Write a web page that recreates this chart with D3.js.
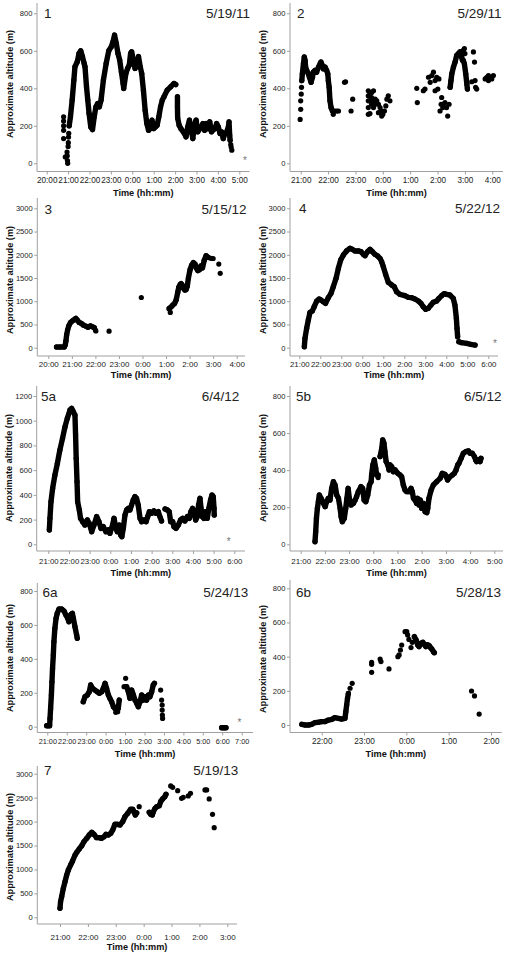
<!DOCTYPE html>
<html><head><meta charset="utf-8">
<script src="https://cdn.jsdelivr.net/npm/d3@7"></script>
<style>
body{margin:0;background:#fff;}
svg{display:block;}
</style></head><body>
<svg id="chart" width="510" height="954"></svg>
<script>
// ---------- DATA (time in decimal hours; values after midnight are +24) ----------
const panelIds = ["1","2","3","4","5a","5b","6a","6b","7"];
const panelDates = ["5/19/11","5/29/11","5/15/12","5/22/12","6/4/12","6/5/12","5/24/13","5/28/13","5/19/13"];

const yTicks800 = [0,200,400,600,800];
const yTicks1200 = [0,200,400,600,800,1000,1200];
const yTicks3000 = [0,500,1000,1500,2000,2500,3000];

const xTicks1 = [20,21,22,23,24,25,26,27,28,29];
const xLabels1 = ["20:00","21:00","22:00","23:00","0:00","1:00","2:00","3:00","4:00","5:00"];
const xTicks2 = [21,22,23,24,25,26,27,28];
const xLabels2 = ["21:00","22:00","23:00","0:00","1:00","2:00","3:00","4:00"];
const xTicks3 = [20,21,22,23,24,25,26,27,28];
const xLabels3 = ["20:00","21:00","22:00","23:00","0:00","1:00","2:00","3:00","4:00"];
const xTicks4 = [21,22,23,24,25,26,27,28,29,30];
const xLabels4 = ["21:00","22:00","23:00","0:00","1:00","2:00","3:00","4:00","5:00","6:00"];
const xTicks5b = [21,22,23,24,25,26,27,28,29];
const xLabels5b = ["21:00","22:00","23:00","0:00","1:00","2:00","3:00","4:00","5:00"];
const xTicks6a = [21,22,23,24,25,26,27,28,29,30,31];
const xLabels6a = ["21:00","22:00","23:00","0:00","1:00","2:00","3:00","4:00","5:00","6:00","7:00"];
const xTicks6b = [22,23,24,25,26];
const xLabels6b = ["22:00","23:00","0:00","1:00","2:00"];
const xTicks7 = [21,22,23,24,25,26,27];
const xLabels7 = ["21:00","22:00","23:00","0:00","1:00","2:00","3:00"];

// Panel 1
const p1Track = [
 [[21.05,200],[21.11,248],[21.19,337],[21.27,444],[21.32,515],[21.43,542],[21.51,586],[21.59,600],[21.67,569],[21.75,533],[21.79,515],[21.86,408],[21.92,337],[21.98,266],[22.06,194],[22.14,180],[22.22,248],[22.30,301],[22.38,319],[22.46,301],[22.54,337],[22.65,444],[22.78,533],[22.90,600],[23.02,622],[23.10,649],[23.17,684],[23.25,640],[23.33,586],[23.41,551],[23.49,488],[23.57,426],[23.60,399],[23.70,479],[23.78,506],[23.86,524],[23.92,586],[23.97,595],[24.05,551],[24.13,506],[24.21,533],[24.29,569],[24.37,515],[24.44,479],[24.52,390],[24.60,283],[24.68,212],[24.76,176],[24.84,185],[24.92,230],[25.00,185],[25.08,194],[25.16,203],[25.24,248],[25.32,301],[25.40,337],[25.48,355],[25.63,390],[25.79,408],[25.95,426],[26.03,420]],
 [[26.11,355],[26.11,300],[26.12,240],[26.19,203],[26.27,185],[26.43,160],[26.51,141],[26.59,194],[26.67,230],[26.75,176],[26.83,132],[26.90,203],[26.98,230],[27.06,168],[27.22,194],[27.30,212],[27.38,176],[27.46,212],[27.54,185],[27.62,221],[27.70,168],[27.86,185],[27.94,212],[28.02,194],[28.10,159],[28.17,168],[28.25,132],[28.33,159],[28.41,168],[28.49,194],[28.52,221],[28.55,150],[28.57,123]]
];
const p1Dots = [[20.79,248],[20.79,225],[20.79,200],[20.79,176],[20.79,132],[20.87,34],[20.95,60],[20.96,40],[20.97,15],[20.98,0],[21.0,90],[21.01,110],[21.02,140],[21.03,160],[28.6,100],[28.62,87],[28.65,70]];
const p1Stars = [[29.27,25]];

// Panel 2
const p2Track = [
 [[21.04,441],[21.06,477],[21.1,531],[21.13,567],[21.16,549],[21.18,513],[21.22,495],[21.28,477],[21.32,459],[21.38,432],[21.43,459],[21.46,486],[21.52,495],[21.58,486],[21.65,513],[21.71,531],[21.74,540],[21.79,522],[21.83,504],[21.89,513],[21.95,495],[21.99,477],[22.01,441],[22.04,405],[22.07,333],[22.11,297],[22.16,279]],
 [[26.46,405],[26.49,441],[26.52,477],[26.58,513],[26.64,540],[26.70,576],[26.76,585],[26.82,594],[26.88,567],[26.91,549],[26.94,549],[26.98,531],[27.03,477],[27.07,423],[27.09,396]]
];
const p2Dots = [[20.98,234],[21.0,288],[21.0,333],[21.02,369],[21.03,405],[22.19,261],[22.25,279],[22.32,279],[22.38,279],
 [22.60,432],[22.64,435],[22.84,279],[22.90,342],
 [23.47,387],[23.47,360],[23.47,333],[23.47,297],[23.47,261],[23.53,369],[23.53,333],[23.53,265],[23.59,378],[23.59,351],[23.59,315],[23.66,387],[23.66,333],[23.66,297],[23.72,342],[23.72,315],[23.78,333],[23.84,315],[23.84,270],[23.90,297],[23.96,279],[23.96,252],[24.0,261],[24.06,279],[24.11,306],[24.15,342],[24.20,360],[24.26,333],
 [25.24,400],[25.26,324],[25.48,387],[25.54,396],[25.67,459],[25.73,432],[25.79,468],[25.85,486],[25.91,441],[25.91,387],[25.97,459],[26.01,396],[26.05,450],
 [26.09,279],[26.13,315],[26.15,351],[26.19,297],[26.21,315],[26.27,324],[26.33,297],[26.37,252],[26.42,315],
 [26.94,603],[26.98,612],[27.0,585],
 [27.25,435],[27.31,594],[27.35,540],[27.37,441],[27.39,405],[27.43,396],
 [27.74,450],[27.80,459],[27.86,468],[27.86,441],[27.92,459],[27.98,450],[28.04,468]];

// Panel 3
const p3Track = [
 [[20.35,15],[20.5,15],[20.68,15],[20.72,60],[20.75,150],[20.78,280],[20.82,380],[20.87,470],[20.94,540],[21.03,580],[21.13,615],[21.17,630],[21.23,595],[21.31,545],[21.41,520],[21.48,490],[21.59,465],[21.69,440],[21.79,470],[21.88,450],[21.95,430]],
 [[25.15,850],[25.22,880],[25.29,920],[25.36,950],[25.43,1030],[25.5,1200],[25.54,1300],[25.6,1360],[25.64,1380],[25.68,1350],[25.74,1280],[25.8,1240],[25.85,1250],[25.9,1320],[25.95,1500],[26.02,1680],[26.09,1780],[26.16,1830],[26.23,1800],[26.28,1720],[26.35,1660],[26.42,1680],[26.48,1760],[26.55,1720],[26.62,1880],[26.7,1980],[26.77,1950]]
];
const p3Dots = [[22.0,380],[22.02,360],[22.58,355],[23.95,1080],[25.12,840],[25.18,760],[26.87,1930],[26.95,1920],[27.0,1920],[27.24,1800],[27.3,1600]];

// Panel 4
const p4Track = [
 [[21.24,20],[21.27,200],[21.35,416],[21.43,596],[21.51,761],[21.62,790],[21.71,883],[21.83,1005],[21.94,1048],[22.03,1027],[22.14,991],[22.25,955],[22.38,1077],[22.51,1170],[22.62,1314],[22.75,1493],[22.86,1709],[22.97,1888],[23.10,1996],[23.25,2082],[23.41,2139],[23.52,2118],[23.65,2082],[23.81,2082],[23.94,2067],[24.05,2010],[24.13,1981],[24.25,2067],[24.37,2118],[24.48,2067],[24.60,2010],[24.73,1974],[24.84,1924],[24.92,1852],[25.0,1744],[25.11,1579],[25.24,1407],[25.40,1350],[25.52,1314],[25.63,1206],[25.79,1149],[26.03,1120],[26.19,1084],[26.35,1077],[26.51,1048],[26.67,1005],[26.79,955],[26.90,883],[27.02,826],[27.14,847],[27.27,919],[27.38,976],[27.54,1005],[27.65,1062],[27.78,1120],[27.90,1163],[28.02,1149],[28.17,1134],[28.33,1062],[28.41,919],[28.48,632],[28.51,416],[28.54,237]],
 [[28.60,129],[28.73,108],[28.97,93],[29.17,72],[29.37,57]]
];
const p4Dots = [];
const p4Stars = [[30.32,140]];

// Panel 5a
const p5aTrack = [
 [[21.05,116],[21.08,210],[21.13,345],[21.21,453],[21.32,561],[21.44,655],[21.56,763],[21.69,858],[21.81,952],[21.92,1019],[22.05,1087],[22.13,1100],[22.21,1073],[22.29,1046],[22.32,885],[22.35,696],[22.39,507],[22.42,345],[22.50,278],[22.56,210],[22.66,183],[22.77,156],[22.89,197],[22.98,170],[23.10,102],[23.21,156],[23.34,224],[23.45,183],[23.55,129],[23.66,143],[23.79,102],[23.90,116],[23.98,89],[24.11,156],[24.18,210],[24.27,129],[24.34,102],[24.44,156],[24.50,76],[24.56,62],[24.63,129],[24.71,237],[24.79,278],[24.87,291],[24.95,278],[25.03,318],[25.11,359],[25.19,386],[25.27,372],[25.35,318],[25.44,210],[25.52,183],[25.63,197],[25.73,183],[25.81,224],[25.89,264],[26.0,251],[26.11,270],[26.21,251],[26.32,264],[26.40,224],[26.48,189]],
 [[26.65,286],[26.76,278],[26.85,264],[26.92,183],[27.02,183],[27.08,143],[27.18,129],[27.29,156],[27.40,197],[27.50,210],[27.61,189],[27.73,224],[27.82,210],[27.90,264],[27.98,291],[28.05,251],[28.13,197],[28.21,224],[28.27,318],[28.34,372],[28.39,291],[28.45,224],[28.53,210],[28.61,264],[28.69,210],[28.77,291],[28.85,359],[28.92,399],[28.98,386],[29.02,291],[29.03,237]]
];
const p5aDots = [];
const p5aStars = [[29.73,45]];

// Panel 5b
const p5bTrack = [
 [[21.59,14],[21.62,68],[21.65,140],[21.69,194],[21.73,230],[21.77,266],[21.84,248],[21.94,221],[22.01,203],[22.07,230],[22.14,248],[22.21,239],[22.28,302],[22.35,338],[22.42,320],[22.49,266],[22.56,248],[22.63,194],[22.67,149],[22.72,122],[22.80,140],[22.86,194],[22.91,248],[22.96,302],[23.01,248],[23.08,212],[23.18,221],[23.25,239],[23.31,257],[23.38,284],[23.49,311],[23.56,302],[23.62,239],[23.69,230],[23.77,266],[23.84,320],[23.91,338],[23.93,374],[23.98,428],[24.04,455],[24.10,410],[24.14,374]],
 [[24.28,473],[24.35,518],[24.39,563],[24.44,545],[24.48,500],[24.53,446],[24.60,428],[24.65,401],[24.69,428],[24.76,419],[24.83,392],[24.90,401],[25.01,383],[25.10,374],[25.17,365],[25.24,320],[25.31,293],[25.38,284],[25.48,284],[25.56,302],[25.61,284],[25.66,248],[25.72,239],[25.79,221],[25.83,248],[25.89,212],[25.94,239],[26.0,194],[26.07,221],[26.14,176],[26.21,171],[26.25,194],[26.30,248],[26.39,293],[26.48,320],[26.62,338],[26.76,356],[26.85,383],[26.96,378],[27.07,347],[27.17,365],[27.27,374],[27.35,383],[27.42,401],[27.49,428],[27.54,437],[27.63,464],[27.72,491],[27.82,500],[27.93,504],[28.0,491],[28.09,491],[28.18,473],[28.23,455],[28.27,446],[28.34,455],[28.41,446],[28.45,464]]
];
const p5bDots = [[24.21,374],[24.2,360]];

// Panel 6a
const p6aTrack = [
 [[20.97,6],[21.05,6],[21.12,6],[21.14,49],[21.17,108],[21.21,187],[21.24,265],[21.27,344],[21.31,423],[21.34,501],[21.39,580],[21.45,639],[21.51,668],[21.60,694],[21.74,694],[21.86,682],[21.96,658],[22.05,639],[22.11,619],[22.17,639],[22.22,662],[22.29,668],[22.34,639],[22.42,590],[22.51,540],[22.54,521]],
 [[22.85,147],[22.94,177],[23.06,187],[23.16,206],[23.23,246],[23.33,226],[23.45,216],[23.57,206],[23.68,197],[23.80,206],[23.88,226],[23.97,256],[24.05,226],[24.14,187],[24.22,167],[24.31,147],[24.40,118],[24.48,108],[24.57,98],[24.65,108],[24.70,157]],
 [[25.08,236],[25.17,206],[25.25,167],[25.34,216],[25.43,187],[25.51,157],[25.60,138],[25.68,118],[25.77,147],[25.85,187],[25.94,157],[26.03,177],[26.11,157],[26.20,187],[26.28,177],[26.37,206],[26.45,246],[26.51,256]],
 [[29.97,-6],[30.05,-6],[30.12,-6],[30.19,-6]]
];
const p6aDots = [[24.62,88],[24.52,85],[24.95,236],[25.03,285],[26.83,216],[26.88,157],[26.91,128],[26.91,98],[26.92,69],[26.93,49]];
const p6aStars = [[30.88,40]];

// Panel 6b
const p6bTrack = [
 [[21.53,4],[21.61,0],[21.69,0],[21.76,4],[21.84,14],[21.92,16],[22.0,20],[22.08,20],[22.16,29],[22.24,33],[22.31,43],[22.39,39],[22.47,35],[22.55,39],[22.57,78],[22.59,117],[22.61,156],[22.63,185]],
 [[24.19,517],[24.23,498],[24.27,468],[24.30,459],[24.34,478],[24.39,484],[24.43,470],[24.46,459],[24.50,470],[24.54,464],[24.57,453],[24.60,445],[24.64,429],[24.66,423]]
];
const p6bDots = [[22.67,215],[22.72,244],[23.18,367],[23.18,355],[23.18,308],[23.38,386],[23.4,371],[23.59,328],[23.80,400],[23.83,410],[23.86,439],[23.89,468],[23.97,546],[24.01,546],[24.03,527],[24.06,501],[24.11,453],[24.14,484],[25.54,199],[25.61,170],[25.72,64]];

// Panel 7
const p7Track = [
 [[21.0,188],[21.02,327],[21.06,432],[21.12,606],[21.18,745],[21.24,884],[21.30,989],[21.38,1093],[21.45,1177],[21.54,1302],[21.60,1358],[21.69,1428],[21.78,1497],[21.86,1581],[21.96,1650],[22.05,1720],[22.14,1776],[22.22,1734],[22.31,1664],[22.41,1664],[22.49,1650],[22.58,1685],[22.65,1734],[22.73,1720],[22.82,1755],[22.89,1824],[22.97,1943],[23.06,1943],[23.15,1929],[23.25,1999],[23.33,2103],[23.43,2173],[23.53,2256],[23.61,2256],[23.65,2207],[23.70,2138],[23.75,2180]],
 [[24.20,2194],[24.25,2152],[24.31,2138],[24.35,2207],[24.41,2277],[24.47,2312],[24.56,2333],[24.62,2430],[24.68,2472],[24.76,2521],[24.80,2570]]
];
const p7Dots = [[23.84,2312],[24.97,2744],[25.04,2716],[25.22,2646],[25.36,2486],[25.42,2507],[25.60,2535],[25.68,2591],[26.20,2660],[26.26,2660],[26.35,2472],[26.47,2152],[26.53,1873]];

// ---------- assemble ----------
const panels = [
 {xTicks:xTicks1, xLabels:xLabels1, yTicks:yTicks800, track:p1Track, dots:p1Dots, stars:p1Stars},
 {xTicks:xTicks2, xLabels:xLabels2, yTicks:yTicks800, track:p2Track, dots:p2Dots, stars:[]},
 {xTicks:xTicks3, xLabels:xLabels3, yTicks:yTicks3000, track:p3Track, dots:p3Dots, stars:[]},
 {xTicks:xTicks4, xLabels:xLabels4, yTicks:yTicks3000, track:p4Track, dots:p4Dots, stars:p4Stars},
 {xTicks:xTicks4, xLabels:xLabels4, yTicks:yTicks1200, track:p5aTrack, dots:p5aDots, stars:p5aStars},
 {xTicks:xTicks5b, xLabels:xLabels5b, yTicks:yTicks800, track:p5bTrack, dots:p5bDots, stars:[]},
 {xTicks:xTicks6a, xLabels:xLabels6a, yTicks:yTicks800, track:p6aTrack, dots:p6aDots, stars:p6aStars},
 {xTicks:xTicks6b, xLabels:xLabels6b, yTicks:yTicks800, track:p6bTrack, dots:p6bDots, stars:[]},
 {xTicks:xTicks7, xLabels:xLabels7, yTicks:yTicks3000, track:p7Track, dots:p7Dots, stars:[]}
];
panels.forEach((p,i)=>{p.id=panelIds[i]; p.date=panelDates[i];});

// ---------- layout (pixels) ----------
const layout = [
 {ax:37,  top:3,   axisY:171.5, xEnd:249.5, x0:46.7,  x1:239.3, y0:163.3, y1:13.3,  titleY:84,  labX:44,  labY:17.5,  dateX:250,   tickPad:2.5, xTitleY:195.5, xFont:8.2},
 {ax:290, top:3,   axisY:171.5, xEnd:503,   x0:300.7, x1:492.3, y0:163.3, y1:13.3,  titleY:84,  labX:297, labY:17.5,  dateX:501.5, tickPad:2.5, xTitleY:195.5, xFont:8.2},
 {ax:37.3,top:198, axisY:356,   xEnd:245,   x0:48.3,  x1:236.7, y0:347.7, y1:208.3, titleY:280, labX:44.5,labY:214,   dateX:246.5, tickPad:2.5, xTitleY:378,   xFont:8},
 {ax:290, top:198, axisY:356,   xEnd:498,   x0:299.3, x1:488.3, y0:347.7, y1:208.3, titleY:280, labX:299, labY:213,   dateX:500,   tickPad:2.5, xTitleY:378,   xFont:7.9},
 {ax:36.7,top:386, axisY:551,   xEnd:245,   x0:48.3,  x1:234.3, y0:544.3, y1:396,   titleY:468, labX:41,  labY:401,   dateX:239.3, tickPad:4,   xTitleY:576,   xFont:7.8},
 {ax:290, top:386, axisY:551,   xEnd:503,   x0:300.7, x1:494.3, y0:544.3, y1:396,   titleY:468, labX:296, labY:401,   dateX:501.5, tickPad:4,   xTitleY:576,   xFont:8},
 {ax:37.3,top:583, axisY:732.5, xEnd:253,   x0:47.3,  x1:241.7, y0:726.7, y1:591,   titleY:658, labX:42.5,labY:596.5, dateX:248.3, tickPad:3,   xTitleY:757,   xFont:7.3},
 {ax:290, top:580, axisY:732.5, xEnd:501.7, x0:321.7, x1:491,   y0:725,   y1:588.3, titleY:659, labX:296, labY:596.5, dateX:501,   tickPad:3,   xTitleY:757,   xFont:8.2},
 {ax:37.3,top:766, axisY:924,   xEnd:237,   x0:60,    x1:227.3, y0:917.3, y1:773.7, titleY:847, labX:44,  labY:775,   dateX:238.3, tickPad:7,   xTitleY:950,   xFont:8}
];

const FONT = '"Liberation Sans", Arial, Helvetica, sans-serif';
const AXIS_COL = "#a0a0a0";
const svg = d3.select("#chart");

panels.forEach((p,i)=>{
  const L = layout[i];
  const g = svg.append("g");
  const x = d3.scaleLinear().domain([p.xTicks[0], p.xTicks[p.xTicks.length-1]]).range([L.x0, L.x1]);
  const y = d3.scaleLinear().domain([0, p.yTicks[p.yTicks.length-1]]).range([L.y0, L.y1]);

  g.append("line").attr("x1",L.ax).attr("x2",L.ax).attr("y1",L.top).attr("y2",L.axisY)
    .attr("stroke",AXIS_COL).attr("stroke-width",1);
  g.append("line").attr("x1",L.ax).attr("x2",L.xEnd).attr("y1",L.axisY).attr("y2",L.axisY)
    .attr("stroke",AXIS_COL).attr("stroke-width",1);

  const ya = g.append("g").attr("transform",`translate(${L.ax},0)`)
    .call(d3.axisLeft(y).tickValues(p.yTicks).tickFormat(d3.format("d")).tickSize(3).tickPadding(1.5));
  ya.select(".domain").remove();
  ya.attr("font-family",FONT).attr("font-size",7.6);
  ya.selectAll("line").attr("stroke",AXIS_COL);
  ya.selectAll("text").attr("fill","#222");

  const xa = g.append("g").attr("transform",`translate(0,${L.axisY})`)
    .call(d3.axisBottom(x).tickValues(p.xTicks).tickFormat((d,k)=>p.xLabels[k]).tickSize(3).tickPadding(L.tickPad));
  xa.select(".domain").remove();
  xa.attr("font-family",FONT).attr("font-size",L.xFont);
  xa.selectAll("line").attr("stroke",AXIS_COL);
  xa.selectAll("text").attr("fill","#222");

  g.append("text").attr("transform",`translate(${L.ax-27.5},${L.titleY}) rotate(-90)`)
    .attr("text-anchor","middle").attr("dy","0.35em")
    .attr("font-family",FONT).attr("font-size",9.2).attr("font-weight","bold").attr("fill","#111")
    .text("Approximate altitude (m)");
  g.append("text").attr("x",(L.ax+L.xEnd)/2).attr("y",L.xTitleY)
    .attr("text-anchor","middle")
    .attr("font-family",FONT).attr("font-size",9.2).attr("font-weight","bold").attr("fill","#111")
    .text("Time (hh:mm)");

  g.append("text").attr("x",L.labX).attr("y",L.labY).attr("font-family",FONT).attr("font-size",13.5).attr("fill","#222").text(p.id);
  g.append("text").attr("x",L.dateX).attr("y",L.labY).attr("text-anchor","end").attr("font-family",FONT).attr("font-size",13.5).attr("fill","#222").text(p.date);

  const line = d3.line().x(d=>x(d[0])).y(d=>y(d[1])).curve(d3.curveLinear);
  g.append("g").selectAll("path").data(p.track).join("path")
    .attr("d",line).attr("fill","none").attr("stroke","#000")
    .attr("stroke-width",5.4).attr("stroke-linejoin","round").attr("stroke-linecap","round");
  const allPts = p.track.flat().concat(p.dots);
  g.append("g").selectAll("circle").data(allPts).join("circle")
    .attr("cx",d=>x(d[0])).attr("cy",d=>y(d[1])).attr("r",2.6).attr("fill","#000");
  g.append("g").selectAll("text").data(p.stars).join("text")
    .attr("x",d=>x(d[0])).attr("y",d=>y(d[1])).attr("dy","0.58em").attr("text-anchor","middle")
    .attr("font-family",FONT).attr("font-size",10).attr("fill","#777").text("*");
});
</script>
</body></html>
